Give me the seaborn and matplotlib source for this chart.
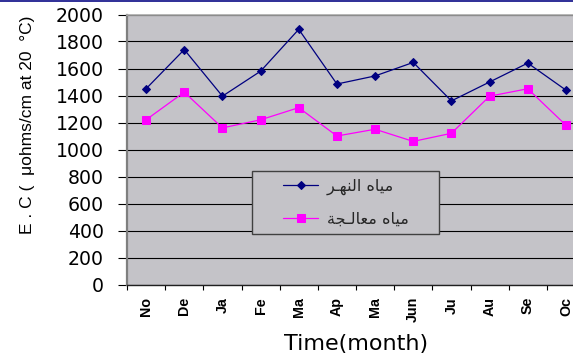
import numpy as np
import pandas as pd
import matplotlib
matplotlib.use("Agg")
import matplotlib.pyplot as plt
from matplotlib.patches import Rectangle
from matplotlib.legend_handler import HandlerLine2D
from matplotlib.ticker import FixedLocator, FixedFormatter
import seaborn as sns

# ---- data -------------------------------------------------------------
months = ["No", "De", "Ja", "Fe", "Ma", "Ap", "Ma", "Jun", "Ju", "Au", "Se", "Oc"]
river_ec = [1450, 1740, 1395, 1580, 1890, 1485, 1545, 1645, 1360, 1500, 1640, 1440]
treated_ec = [1220, 1425, 1160, 1220, 1310, 1100, 1150, 1060, 1120, 1395, 1450, 1180]
series_names = ["مياه النهـر", "مياه معالـجة"]
y_ticks = [0, 200, 400, 600, 800, 1000, 1200, 1400, 1600, 1800, 2000]
x_title = "Time(month)"
y_title = "E . C (  μohms/cm at 20  °C)"

# ---- minimal Arabic shaping (matplotlib has no contextual shaping / bidi) ----
# isolated, final, initial, medial presentation forms
ARABIC_FORMS = {
    "ا": ("\uFE8D", "\uFE8E", None, None),
    "ة": ("\uFE93", "\uFE94", None, None),
    "ج": ("\uFE9D", "\uFE9E", "\uFE9F", "\uFEA0"),
    "ر": ("\uFEAD", "\uFEAE", None, None),
    "ع": ("\uFEC9", "\uFECA", "\uFECB", "\uFECC"),
    "ل": ("\uFEDD", "\uFEDE", "\uFEDF", "\uFEE0"),
    "م": ("\uFEE1", "\uFEE2", "\uFEE3", "\uFEE4"),
    "ن": ("\uFEE5", "\uFEE6", "\uFEE7", "\uFEE8"),
    "ه": ("\uFEE9", "\uFEEA", "\uFEEB", "\uFEEC"),
    "ي": ("\uFEF1", "\uFEF2", "\uFEF3", "\uFEF4"),
}
TATWEEL = "\u0640"


def _links_forward(ch):
    return ch == TATWEEL or (ch in ARABIC_FORMS and ARABIC_FORMS[ch][2] is not None)


def shape_arabic(text):
    words = []
    for word in text.split(" "):
        chars = list(word)
        shaped = []
        for i, ch in enumerate(chars):
            if ch not in ARABIC_FORMS:
                shaped.append(ch)
                continue
            prev = chars[i - 1] if i > 0 else None
            nxt = chars[i + 1] if i + 1 < len(chars) else None
            join_prev = prev is not None and _links_forward(prev)
            join_next = (nxt is not None and (nxt == TATWEEL or nxt in ARABIC_FORMS)
                         and ARABIC_FORMS[ch][2] is not None)
            iso, fin, ini, med = ARABIC_FORMS[ch]
            if join_prev and join_next:
                shaped.append(med)
            elif join_prev:
                shaped.append(fin)
            elif join_next:
                shaped.append(ini)
            else:
                shaped.append(iso)
        words.append("".join(reversed(shaped)))
    return " ".join(reversed(words))


# ---- style -------------------------------------------------------------
sns.set_theme(style="white")
plt.rcParams["font.family"] = ["Liberation Sans", "DejaVu Sans"]

W, H = 573, 356
fig = plt.figure(figsize=(W / 100, H / 100), dpi=100, facecolor="white")

# thin banner line along the top edge
fig.patches.append(Rectangle((0, 1 - 2 / H), 1, 2 / H, transform=fig.transFigure,
                             facecolor="#333399", edgecolor="none"))

ax = fig.add_axes([127 / W, 1 - 284.5 / H, 458 / W, 270 / H])
ax.set_facecolor("#c4c3c8")

df = pd.DataFrame({"pos": np.arange(len(months)), "river": river_ec, "treated": treated_ec})

sns.lineplot(data=df, x="pos", y="river", ax=ax, color="#000080", linewidth=0.9,
             marker="D", markersize=4.2, markeredgecolor="#000080",
             label=shape_arabic(series_names[0]))
sns.lineplot(data=df, x="pos", y="treated", ax=ax, color="#ff00ff", linewidth=0.9,
             marker="s", markersize=5.2, markeredgecolor="#ff00ff",
             label=shape_arabic(series_names[1]))

# axes limits and ticks
ax.set_xlim(-0.5, len(months) - 0.5)
ax.set_ylim(0, 2000)
ax.yaxis.set_major_locator(FixedLocator(y_ticks))
ax.yaxis.set_major_formatter(FixedFormatter([str(v) for v in y_ticks]))
ax.tick_params(axis="y", which="major", direction="out", length=6.5, width=0.8,
               color="black", pad=10, left=True)
for lbl in ax.get_yticklabels():
    lbl.set_fontfamily("DejaVu Sans")
    lbl.set_fontsize(13.6)
    lbl.set_color("black")

ax.xaxis.set_major_locator(FixedLocator(df["pos"].tolist()))
ax.set_xticklabels(months, rotation=90, fontweight="bold", fontsize=10.3,
                   family="Liberation Sans", color="black")
ax.xaxis.set_minor_locator(FixedLocator(np.arange(-0.5, len(months), 1.0)))
ax.tick_params(axis="x", which="major", length=0, pad=9, bottom=True)
ax.tick_params(axis="x", which="minor", direction="out", length=3.8, width=0.8,
               color="black", bottom=True)

ax.yaxis.grid(True, color="black", linewidth=0.8)
ax.xaxis.grid(False)
ax.set_axisbelow(True)

for side, col, lw in [("left", "#7f7f7f", 1.6), ("bottom", "#202020", 1.0),
                      ("top", "#a9a9a9", 1.2), ("right", "#a9a9a9", 1.2)]:
    ax.spines[side].set_visible(True)
    ax.spines[side].set_color(col)
    ax.spines[side].set_linewidth(lw)

ax.set_xlabel(x_title, fontsize=16, family="DejaVu Sans", color="black")
ax.xaxis.set_label_coords(0.5, -0.183)
ax.xaxis.label.set_verticalalignment("top")
ax.set_ylabel(y_title, fontsize=12.5, color="black")
ax.yaxis.set_label_coords(-0.2, 0.593)

# legend box
fs = 11.5
fs_px = fs * 100 / 72
pad = 0.5
xpad = (31 - pad * fs_px) / fs_px
handles, labels = ax.get_legend_handles_labels()
leg = ax.legend(handles, labels,
                bbox_to_anchor=(252 / W, 1 - 236 / H, 187 / W, 65 / H),
                bbox_transform=fig.transFigure, loc="upper left", mode="expand",
                borderaxespad=0, borderpad=pad, labelspacing=1.0,
                handlelength=(35 + xpad * fs_px) / fs_px, handletextpad=9 / fs_px,
                numpoints=1, fancybox=False, framealpha=1, frameon=True,
                prop={"family": "DejaVu Sans", "size": fs},
                handler_map={h: HandlerLine2D(xpad=xpad) for h in handles})
frame = leg.get_frame()
frame.set_facecolor("#c4c3c8")
frame.set_edgecolor("#404040")
frame.set_linewidth(1.0)

fig.savefig("out.png", dpi=100, facecolor="white")
